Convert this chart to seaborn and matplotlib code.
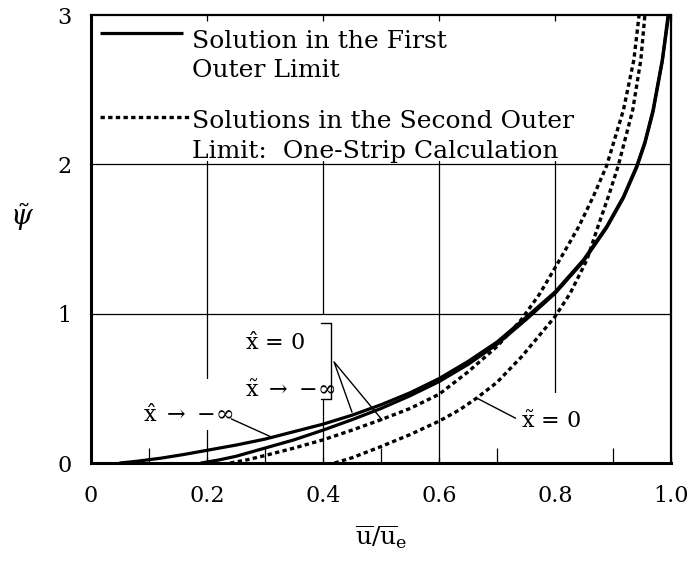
import numpy as np
import pandas as pd
import matplotlib
matplotlib.use("Agg")
import matplotlib.pyplot as plt
from matplotlib.patches import Rectangle
import seaborn as sns

# Velocity profiles u/u_e against stream function psi~
# First outer limit, x^ -> -inf
first_inf_u = [0.05, 0.08, 0.12, 0.16, 0.20, 0.25, 0.30, 0.35, 0.40, 0.45, 0.50, 0.55, 0.60, 0.65, 0.70,
               0.75, 0.80, 0.849, 0.889, 0.918, 0.941, 0.955, 0.969, 0.985, 0.995]
first_inf_psi = [0.0, 0.012, 0.032, 0.057, 0.085, 0.12, 0.16, 0.21, 0.26, 0.32, 0.39, 0.47, 0.565, 0.68, 0.81,
                 0.975, 1.145, 1.36, 1.583, 1.784, 1.99, 2.15, 2.364, 2.70, 3.0]
# First outer limit, x^ = 0
first_zero_u = [0.19, 0.22, 0.25, 0.30, 0.35, 0.40, 0.45, 0.50, 0.55, 0.60, 0.65, 0.70, 0.75, 0.80,
                0.849, 0.889, 0.918, 0.941, 0.955, 0.969, 0.985, 0.996]
first_zero_psi = [0.0, 0.02, 0.045, 0.10, 0.155, 0.22, 0.29, 0.365, 0.45, 0.545, 0.66, 0.795, 0.96, 1.135,
                  1.35, 1.575, 1.775, 1.98, 2.14, 2.35, 2.69, 3.0]
# Second outer limit (one-strip), x~ -> -inf
second_inf_u = [0.24, 0.27, 0.30, 0.35, 0.40, 0.45, 0.50, 0.55, 0.60, 0.65, 0.70, 0.742, 0.774, 0.808,
                0.841, 0.866, 0.889, 0.918, 0.936, 0.945]
second_inf_psi = [0.0, 0.022, 0.05, 0.10, 0.155, 0.22, 0.29, 0.365, 0.46, 0.61, 0.78, 0.96, 1.135, 1.36,
                  1.583, 1.784, 1.99, 2.364, 2.70, 3.0]
# Second outer limit (one-strip), x~ = 0
second_zero_u = [0.42, 0.45, 0.50, 0.55, 0.60, 0.635, 0.665, 0.70, 0.742, 0.77, 0.80, 0.826, 0.855,
                 0.874, 0.892, 0.909, 0.934, 0.948, 0.955]
second_zero_psi = [0.0, 0.035, 0.11, 0.19, 0.28, 0.355, 0.435, 0.54, 0.71, 0.84, 0.98, 1.135, 1.36,
                   1.583, 1.784, 1.99, 2.364, 2.70, 3.0]

x_ticks = [0, 0.2, 0.4, 0.6, 0.8, 1.0]
x_tick_labels = ["0", "0.2", "0.4", "0.6", "0.8", "1.0"]
y_ticks = [0, 1, 2, 3]
y_tick_labels = ["0", "1", "2", "3"]

sns.set_theme(style="white")
plt.rcParams["font.family"] = ["DejaVu Serif"]
plt.rcParams["mathtext.fontset"] = "dejavuserif"
for key in ["text.color", "axes.labelcolor", "xtick.color", "ytick.color"]:
    plt.rcParams[key] = "black"

fig = plt.figure(figsize=(6.96, 5.75), dpi=100)
ax = fig.add_axes([91 / 696, 112 / 575, 580 / 696, 448 / 575])
ax.set_xlim(0, 1.0)
ax.set_ylim(0, 3)

# grid: verticals stop below the key block, horizontals span the width
for xv in [0.2, 0.4, 0.6, 0.8]:
    ax.plot([xv, xv], [0, 2.02], color="black", lw=0.9, zorder=1)
for yv in [1, 2]:
    ax.axhline(yv, color="black", lw=0.9, zorder=2.5)

solid_kw = dict(color="black", lw=2.3, estimator=None, legend=False, zorder=3)
dot_kw = dict(color="black", lw=2.4, estimator=None, legend=False, zorder=3)

def profile(u, psi):
    return pd.DataFrame({"u": u, "psi": psi})

sns.lineplot(data=profile(first_inf_u, first_inf_psi), x="u", y="psi", ax=ax, **solid_kw)
sns.lineplot(data=profile(first_zero_u, first_zero_psi), x="u", y="psi", ax=ax, **solid_kw)
sns.lineplot(data=profile(second_inf_u, second_inf_psi), x="u", y="psi", ax=ax, **dot_kw)
sns.lineplot(data=profile(second_zero_u, second_zero_psi), x="u", y="psi", ax=ax, **dot_kw)
for line in ax.lines[-2:]:
    line.set_dashes((1.3, 1.0))
    line.set_dash_capstyle("butt")
for line in ax.lines[-4:]:
    line.set_solid_joinstyle("round")

# white areas behind the curve labels
for (x0, y0, w, h) in [(0.085, 0.22, 0.16, 0.34), (0.25, 0.42, 0.165, 0.57), (0.735, 0.0, 0.125, 0.47)]:
    ax.add_patch(Rectangle((x0, y0), w, h, facecolor="white", edgecolor="none", zorder=2))

lab_fs = 16
ax.text(0.09, 0.275, r"$\hat{\mathrm{x}}$ $\rightarrow$ $-\infty$", fontsize=lab_fs, ha="left", va="baseline", zorder=4)
ax.plot([0.242, 0.311], [0.295, 0.174], color="black", lw=1.0, zorder=4)

ax.text(0.265, 0.757, r"$\hat{\mathrm{x}}$ = 0", fontsize=lab_fs, ha="left", va="baseline", zorder=4)
ax.text(0.265, 0.444, r"$\tilde{\mathrm{x}}$ $\rightarrow$ $-\infty$", fontsize=lab_fs, ha="left", va="baseline", zorder=4)
ax.plot([0.397, 0.414, 0.414, 0.397], [0.935, 0.935, 0.427, 0.427], color="black", lw=1.0, zorder=4)
ax.plot([0.45, 0.419, 0.502], [0.34, 0.677, 0.288], color="black", lw=1.0, zorder=4)

ax.text(0.741, 0.234, r"$\tilde{\mathrm{x}}$ = 0", fontsize=lab_fs, ha="left", va="baseline", zorder=4)
ax.plot([0.732, 0.665], [0.30, 0.435], color="black", lw=1.0, zorder=4)

# key drawn inside the top-left corner
leg_fs = 18
ax.plot([0.0155, 0.159], [0.96, 0.96], transform=ax.transAxes, color="black", lw=2.3, solid_capstyle="butt")
kd, = ax.plot([0.0155, 0.171], [0.772, 0.772], transform=ax.transAxes, color="black", lw=2.4)
kd.set_dashes((1.3, 1.0))
kd.set_dash_capstyle("butt")
ax.text(0.174, (463 - 48) / 448, "Solution in the First", transform=ax.transAxes, fontsize=leg_fs, va="baseline")
ax.text(0.174, (463 - 77) / 448, "Outer Limit", transform=ax.transAxes, fontsize=leg_fs, va="baseline")
ax.text(0.174, (463 - 128) / 448, "Solutions in the Second Outer", transform=ax.transAxes, fontsize=leg_fs, va="baseline")
ax.text(0.174, (463 - 158) / 448, "Limit:  One-Strip Calculation", transform=ax.transAxes, fontsize=leg_fs, va="baseline")

ax.set_xticks(x_ticks)
ax.set_xticklabels(x_tick_labels, fontsize=16)
ax.set_yticks(y_ticks)
ax.set_yticklabels(y_tick_labels, fontsize=16)
ax.set_xticks([0.1, 0.3, 0.5, 0.7, 0.9], minor=True)
ax.tick_params(axis="x", which="major", bottom=True, top=True, direction="in", length=4, width=0.9, pad=16, color="black")
ax.tick_params(axis="x", which="minor", bottom=True, top=False, direction="in", length=11, width=0.9, color="black")
ax.tick_params(axis="y", which="major", left=False, right=False, pad=8)

for side, lw in [("left", 2.2), ("bottom", 2.2), ("top", 1.6), ("right", 1.6)]:
    ax.spines[side].set_visible(True)
    ax.spines[side].set_linewidth(lw)
    ax.spines[side].set_color("black")

ax.set_xlabel(r"$\overline{\mathrm{u}}/\overline{\mathrm{u}}_{\mathrm{e}}$", fontsize=18, labelpad=12)
ax.set_ylabel(r"$\tilde{\psi}$", fontsize=20, rotation=0, va="center")
ax.yaxis.set_label_coords(-0.119, 0.55)

fig.savefig("out.png", dpi=100)
